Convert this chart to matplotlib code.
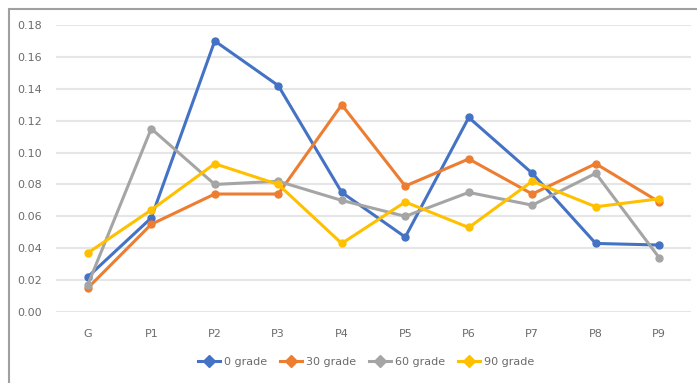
import matplotlib
matplotlib.use("Agg")
import matplotlib.pyplot as plt
from matplotlib.patches import Rectangle
from matplotlib.lines import Line2D

categories = ["G", "P1", "P2", "P3", "P4", "P5", "P6", "P7", "P8", "P9"]
grade_0 = [0.022, 0.059, 0.170, 0.142, 0.075, 0.047, 0.122, 0.087, 0.043, 0.042]
grade_30 = [0.015, 0.055, 0.074, 0.074, 0.130, 0.079, 0.096, 0.074, 0.093, 0.069]
grade_60 = [0.017, 0.115, 0.080, 0.082, 0.070, 0.060, 0.075, 0.067, 0.087, 0.034]
grade_90 = [0.037, 0.064, 0.093, 0.080, 0.043, 0.069, 0.053, 0.082, 0.066, 0.071]
series_names = ["0 grade", "30 grade", "60 grade", "90 grade"]
colors = ["#4472C4", "#ED7D31", "#A5A5A5", "#FFC000"]
yticks = [0.00, 0.02, 0.04, 0.06, 0.08, 0.10, 0.12, 0.14, 0.16, 0.18]

W, H = 697, 383
fig = plt.figure(figsize=(W / 100, H / 100), dpi=100)
fig.patch.set_facecolor("white")

# chart frame
fig.patches.append(Rectangle((9 / W, -0.1), 1.2, (H - 9) / H + 0.1, transform=fig.transFigure,
                             fill=False, edgecolor="#A0A0A0", linewidth=1.5))

ax = fig.add_axes([56 / W, (H - 312) / H, (691 - 56) / W, (312 - 25) / H])
x = list(range(len(categories)))
for vals, c in zip([grade_0, grade_30, grade_60, grade_90], colors):
    ax.plot(x, vals, color=c, linewidth=2.2, marker="o", markersize=5, zorder=3)

ax.set_xlim(-0.5, len(categories) - 0.5)
ax.set_ylim(0, 0.18)
ax.set_yticks(yticks)
ax.set_yticklabels([f"{v:.2f}" for v in yticks])
ax.set_xticks(x)
ax.set_xticklabels(categories)
ax.yaxis.grid(True, color="#E6E6E6", linewidth=1.5, zorder=0)
for s in ax.spines.values():
    s.set_visible(False)
ax.tick_params(axis="both", length=0, colors="#6B6B6B", labelsize=8)
ax.tick_params(axis="y", pad=10)
ax.tick_params(axis="x", pad=12)

handles = [Line2D([0], [0], color=c, linewidth=2.2, marker="D", markersize=6) for c in colors]
fig.legend(handles, series_names, loc="center", bbox_to_anchor=(366 / W, (H - 362) / H),
           ncol=4, frameon=False, fontsize=8, labelcolor="#6B6B6B",
           handlelength=2.0, columnspacing=1.2, handletextpad=0.3)

fig.savefig("out.png", dpi=100, facecolor="white")
